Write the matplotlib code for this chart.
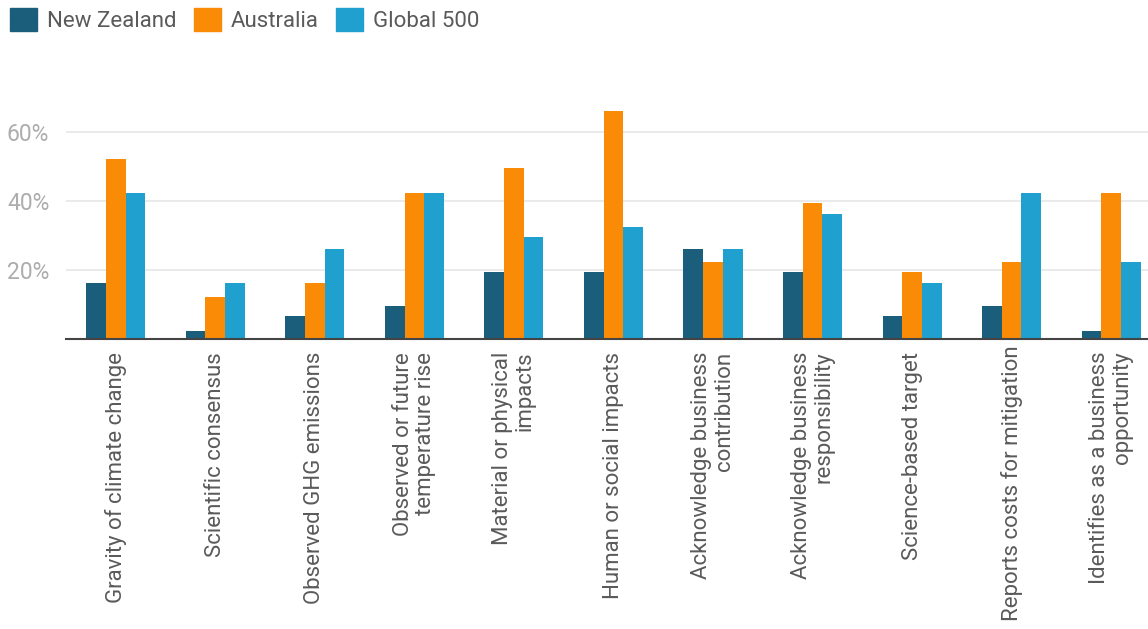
import matplotlib.pyplot as plt
import matplotlib.transforms as mtransforms
import numpy as np
from matplotlib.patches import Patch

plt.rcParams['font.family'] = ['Roboto', 'DejaVu Sans']

categorias = ["Gravity of climate change", "Scientific consensus", "Observed GHG emissions",
              "Observed or future\ntemperature rise", "Material or physical\nimpacts",
              "Human or social impacts", "Acknowledge business\ncontribution",
              "Acknowledge business\nresponsibility", "Science-based target",
              "Reports costs for mitigation", "Identifies as a business\nopportunity"]
series = ["New Zealand", "Australia", "Global 500"]
nz = [16.2, 2.4, 6.8, 9.6, 19.6, 19.6, 26.3, 19.6, 6.8, 9.6, 2.4]
australia = [52.3, 12.3, 16.2, 42.3, 49.6, 66.3, 22.3, 39.6, 19.6, 22.3, 42.3]
global500 = [42.3, 16.2, 26.3, 42.3, 29.6, 32.5, 26.3, 36.2, 16.2, 42.3, 22.3]
yticks = [20, 40, 60]

colores = ['#1b5e7b', '#f98b06', '#1fa0cf']
gris = '#5a5a5a'

fig = plt.figure(figsize=(11.48, 6.29), dpi=100)
ax = fig.add_axes([66/1148, 289.7/629, 1 - 66/1148, 241.5/629])

x = np.arange(len(categorias))
w = 0.198
for i, (vals, c) in enumerate(zip([nz, australia, global500], colores)):
    ax.bar(x + (i - 1) * w, vals, w, color=c, zorder=3)

ax.set_xlim(-0.5, 10.37)
ax.set_ylim(0, 70)
ax.set_yticks(yticks)
ax.set_yticklabels([f"{v}%" for v in yticks], color='#adadad', fontsize=16.5)
ax.yaxis.grid(True, color='#e6e6e6', lw=1.2, zorder=0)
ax.tick_params(axis='y', length=0, pad=12)
ax.set_xticks(x)
ax.set_xticklabels(categorias, rotation=90, fontsize=16, color=gris,
                   va='top', ha='center', multialignment='right', linespacing=1.1)
ax.tick_params(axis='x', length=0, pad=9)
# the long label sits a bit higher in the original
lbl = ax.get_xticklabels()[9]
lbl.set_transform(lbl.get_transform() + mtransforms.ScaledTranslation(0, 6/100, fig.dpi_scale_trans))
for s in ['top', 'right', 'left']:
    ax.spines[s].set_visible(False)
ax.spines['bottom'].set_color('#444444')
ax.spines['bottom'].set_linewidth(1.5)
ax.spines['bottom'].set_zorder(4)

handles = [Patch(color=c, label=s) for s, c in zip(series, colores)]
leg = fig.legend(handles=handles, loc='upper left', bbox_to_anchor=(10/1148, 1 - 8/629),
                 ncol=3, frameon=False, fontsize=16, handlelength=1.2, handleheight=1.2,
                 handletextpad=0.45, columnspacing=0.8, borderpad=0, borderaxespad=0)
for t in leg.get_texts():
    t.set_color(gris)

fig.savefig("out.png", dpi=100)
